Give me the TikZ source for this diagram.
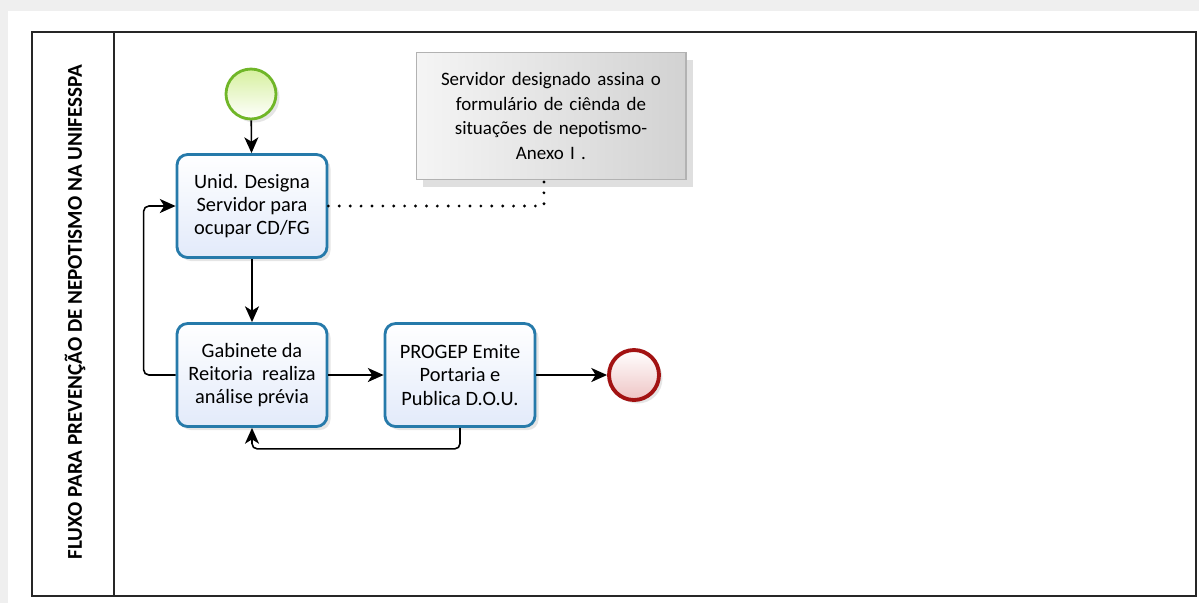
\documentclass[tikz,border=0pt]{standalone}
\usepackage{fontspec}
\setmainfont{Carlito}
\usetikzlibrary{arrows.meta,shadows}

\definecolor{taskline}{RGB}{38,122,170}
\definecolor{taskfill}{RGB}{226,234,250}
\definecolor{startline}{RGB}{112,182,40}
\definecolor{startfill}{RGB}{214,240,158}
\definecolor{endline}{RGB}{162,18,18}
\definecolor{endfill}{RGB}{238,196,196}
\definecolor{notefill}{RGB}{210,210,210}
\definecolor{pagegray}{RGB}{239,239,239}

\begin{document}
\begin{tikzpicture}[
        x=0.02cm, y=-0.02cm,
        font=\fontsize{11.6}{13.2}\selectfont,
        >={Stealth[length=9pt,width=8pt,inset=2.5pt]},
        task/.style={draw=taskline, line width=1.6pt, rounded corners=6pt, align=center, minimum width=3cm, minimum height=2.06cm, top color=white, bottom color=taskfill, drop shadow={shadow xshift=2pt, shadow yshift=-2pt, opacity=0.2}},
        startev/.style={circle, draw=startline, line width=1.6pt, minimum size=1cm, inner sep=0pt, top color=startfill, bottom color=white, drop shadow={shadow xshift=2pt, shadow yshift=-2pt, opacity=0.2}},
        endev/.style={circle, draw=endline, line width=2.2pt, minimum size=1cm, inner sep=0pt, top color=white, bottom color=endfill, drop shadow={shadow xshift=2pt, shadow yshift=-2pt, opacity=0.2}},
        annot/.style={draw=gray!60, line width=0.6pt, align=center, text width=5cm, minimum width=5.4cm, minimum height=2.54cm, font=\fontsize{10.8}{14}\selectfont, left color=gray!8, right color=notefill, drop shadow={shadow xshift=4pt, shadow yshift=-4pt, opacity=0.25}},
        flow/.style={->, line width=0.9pt, rounded corners=3pt},
        assoc/.style={line width=1.8pt, line cap=round, dash pattern=on 0pt off 6.2pt},
        pool/.style={draw=black!85, line width=1.2pt}
      ]
      % page
      \fill[pagegray] (0,0) rectangle (1199,603);
      \fill[white] (8,11) rectangle (1199,603);

      % pool and lane
      \draw[pool] (32,32) rectangle (1196,596);
      \draw[pool] (114,32) -- (114,596);
      \node[rotate=90, font=\fontsize{12}{14}\bfseries] (title) at (75,312) {FLUXO PARA PREVENÇÃO DE NEPOTISMO NA UNIFESSPA};

      \node[startev] (start) at (251,94) {};
      \node[task] (unid) at (252,206) {Unid. Designa\\Servidor para\\ocupar CD/FG};
      \node[task] (gab) at (252,375) {Gabinete da\\Reitoria\ \ realiza\\análise prévia};
      \node[task] (progep) at (460,375) {PROGEP Emite\\Portaria e\\Publica D.O.U.};
      \node[endev] (fim) at (634,375) {};
      \node[annot] (note) at (551,116) {Servidor designado assina o\\formulário de ciênda de\\situações de nepotismo-\\Anexo I .};

      \draw[flow] (start) -- (unid);
      \draw[flow] (unid) -- (gab);
      \draw[flow] (gab) -- (progep);
      \draw[flow] (progep) -- (fim);
      \draw[flow] (gab.west) -- ++(-32,0) |- (unid.west);
      \draw[flow] (progep.south) -- ++(0,21) -| (gab.south);

      \draw[assoc] (unid.east) -| ([xshift=-4]note.south);
    \end{tikzpicture}
\end{document}
